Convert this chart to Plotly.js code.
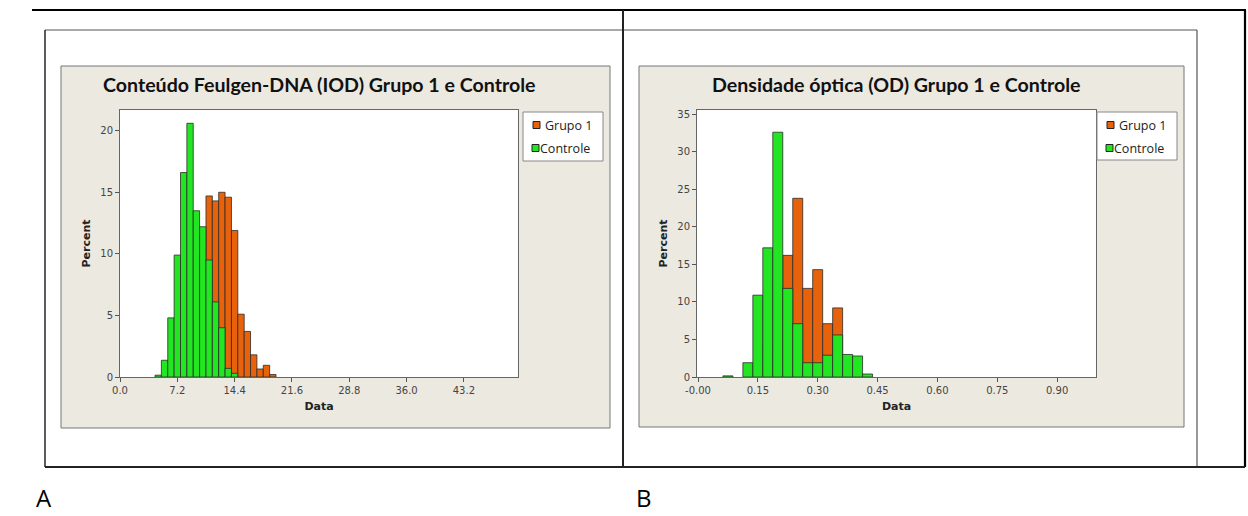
<!DOCTYPE html>
<html>
<head>
<meta charset="utf-8">
<script src="https://cdn.plot.ly/plotly-3.0.1.min.js"></script>
<style>html,body{margin:0;padding:0;background:#fff;}#chart{width:1248px;height:516px;}</style>
</head>
<body>
<div id="chart"></div>
<script>
// ---- Data ----
const seriesNames = ['Grupo 1', 'Controle'];
const panelLetters = ['A', 'B'];
const titleIOD = 'Conteúdo Feulgen-DNA (IOD) Grupo 1 e Controle';
const titleOD = 'Densidade óptica (OD) Grupo 1 e Controle';
const xTitle = 'Data';
const yTitle = 'Percent';

// Panel A: IOD histogram (bin centres, percent per group)
const iodBins = [4.8, 5.6, 6.4, 7.2, 8.0, 8.8, 9.6, 10.4, 11.2, 12.0, 12.8, 13.6, 14.4, 15.2, 16.0, 16.8, 17.6, 18.4, 19.2];
const iodGrupo1 = [null, null, null, null, 0.3, 1.2, 4.5, 10.0, 14.7, 14.3, 15.0, 14.6, 11.9, 5.1, 3.7, 1.8, 0.65, 0.95, 0.2];
const iodControle = [0.15, 1.36, 4.8, 9.9, 16.6, 20.6, 13.5, 12.2, 9.5, 6.1, 4.0, 0.7, 0.3, null, null, null, null, null, null];
const iodBinWidth = 0.8;
const iodTickVals = [0, 7.2, 14.4, 21.6, 28.8, 36.0, 43.2];
const iodTickText = ['0.0', '7.2', '14.4', '21.6', '28.8', '36.0', '43.2'];
const iodYTicks = [0, 5, 10, 15, 20];

// Panel B: OD histogram
const odBins = [0.075, 0.1, 0.125, 0.15, 0.175, 0.2, 0.225, 0.25, 0.275, 0.3, 0.325, 0.35, 0.375, 0.4, 0.425];
const odGrupo1 = [null, null, null, 1.0, 4.0, 12.0, 16.2, 23.8, 11.8, 14.3, 7.1, 9.2, 0.6, null, null];
const odControle = [0.15, null, 1.9, 10.9, 17.2, 32.6, 11.8, 7.1, 1.9, 1.9, 2.9, 5.6, 3.0, 2.8, 0.4];
const odBinWidth = 0.025;
const odTickVals = [0, 0.15, 0.30, 0.45, 0.60, 0.75, 0.90];
const odTickText = ['-0.00', '0.15', '0.30', '0.45', '0.60', '0.75', '0.90'];
const odYTicks = [0, 5, 10, 15, 20, 25, 30, 35];

// ---- Styling ----
const W = 1248, H = 516;
const px = x => x / W;
const py = y => 1 - y / H;
const orange = '#E8620C';
const green = '#22E622';
const barLine = {color: '#2b2b2b', width: 0.8};

function bars(x, y, w, name, color, xa, ya) {
  return {type: 'bar', x: x, y: y, width: w, name: name, xaxis: xa, yaxis: ya,
    marker: {color: color, line: barLine}, showlegend: false, hoverinfo: 'x+y+name'};
}

const data = [
  bars(iodBins, iodGrupo1, iodBinWidth, seriesNames[0], orange, 'x', 'y'),
  bars(iodBins, iodControle, iodBinWidth, seriesNames[1], green, 'x', 'y'),
  bars(odBins, odGrupo1, odBinWidth, seriesNames[0], orange, 'x2', 'y2'),
  bars(odBins, odControle, odBinWidth, seriesNames[1], green, 'x2', 'y2')
];

const tickFont = {family: 'DejaVu Sans', size: 10, color: '#444'};
const axTitleFont = {family: 'DejaVu Sans', size: 11, color: '#222'};
function xAxis(domain, range, tv, tt, anchor) {
  return {domain: domain, range: range, anchor: anchor, tickvals: tv, ticktext: tt,
    ticks: 'outside', ticklen: 4, tickcolor: '#555', showline: true, mirror: true,
    linecolor: '#666', linewidth: 1, showgrid: false, zeroline: false, tickfont: tickFont,
    title: {text: '<b>' + xTitle + '</b>', font: axTitleFont, standoff: 7}, fixedrange: true};
}
function yAxis(domain, range, tv, anchor) {
  return {domain: domain, range: range, anchor: anchor, tickvals: tv,
    ticks: 'outside', ticklen: 4, tickcolor: '#555', showline: true, mirror: true,
    linecolor: '#666', linewidth: 1, showgrid: false, zeroline: false, tickfont: tickFont,
    title: {text: '<b>' + yTitle + '</b>', font: axTitleFont, standoff: 7}, fixedrange: true};
}

function line(x0, y0, x1, y1, color, width) {
  return {type: 'line', xref: 'paper', yref: 'paper', x0: px(x0), y0: py(y0), x1: px(x1), y1: py(y1),
    line: {color: color, width: width}, layer: 'below'};
}
function rect(x0, y0, x1, y1, fill, lc, lw, layer) {
  return {type: 'rect', xref: 'paper', yref: 'paper', x0: px(x0), y0: py(y0), x1: px(x1), y1: py(y1),
    fillcolor: fill, line: {color: lc, width: lw}, layer: layer || 'below'};
}

const shapes = [
  // gray chart panels
  rect(61, 66, 610, 428, '#ECE9E1', '#777', 1),
  rect(639, 66, 1184, 427, '#ECE9E1', '#777', 1),
  // white plot areas
  rect(120, 110, 518, 377, '#ffffff', 'rgba(0,0,0,0)', 0),
  rect(697, 110, 1096, 377, '#ffffff', 'rgba(0,0,0,0)', 0),
  // image frames
  line(45, 30, 1197, 30, '#555', 1.2),
  line(45, 30, 45, 467, '#333', 1.6),
  line(1197, 30, 1197, 467, '#555', 1.2),
  // table borders
  line(32, 10, 1246, 10, '#000', 2.2),
  line(1245, 10, 1245, 467, '#000', 2.2),
  line(623, 10, 623, 467, '#222', 2),
  line(45, 467, 1245, 467, '#222', 2),
  // legends
  rect(523, 112, 603, 161, '#ffffff', '#888', 1, 'above'),
  rect(1097, 112, 1177, 160, '#ffffff', '#888', 1, 'above'),
  rect(533, 121.5, 540, 128.5, orange, '#222', 1, 'above'),
  rect(532, 144.5, 539, 151.5, green, '#222', 1, 'above'),
  rect(1107, 121.5, 1114, 128.5, orange, '#222', 1, 'above'),
  rect(1106, 144.5, 1113, 151.5, green, '#222', 1, 'above')
];

const legFont = {family: 'Open Sans', size: 12.5, color: '#222'};
const titleFont = {family: 'Lato', size: 19.6, color: '#111', weight: 'bold'};
function ann(text, x, y, font, xanchor, yanchor) {
  return {text: text, x: px(x), y: py(y), xref: 'paper', yref: 'paper', showarrow: false,
    font: font, xanchor: xanchor || 'center', yanchor: yanchor || 'middle'};
}
const letterFont = {family: 'Open Sans', size: 24, color: '#000'};
const annotations = [
  ann('<b>' + titleIOD + '</b>', 319, 84, titleFont),
  ann('<b>' + titleOD + '</b>', 896, 84, titleFont),
  ann(seriesNames[0], 543, 125, legFont, 'left'),
  ann(seriesNames[1], 538, 148, legFont, 'left'),
  ann(seriesNames[0], 1117, 125, legFont, 'left'),
  ann(seriesNames[1], 1112, 148, legFont, 'left'),
  ann(panelLetters[0], 34, 516, letterFont, 'left', 'bottom'),
  ann(panelLetters[1], 634, 516, letterFont, 'left', 'bottom')
];

const layout = {
  width: W, height: H, margin: {l: 0, r: 0, t: 0, b: 0},
  paper_bgcolor: '#ffffff', plot_bgcolor: 'rgba(0,0,0,0)',
  barmode: 'overlay', bargap: 0, showlegend: false,
  xaxis: xAxis([px(120), px(518)], [0, 50], iodTickVals, iodTickText, 'y'),
  yaxis: yAxis([py(377), py(110)], [0, 21.68], iodYTicks, 'x'),
  xaxis2: xAxis([px(697), px(1096)], [-0.0025, 0.9975], odTickVals, odTickText, 'y2'),
  yaxis2: yAxis([py(377), py(110)], [0, 35.56], odYTicks, 'x2'),
  shapes: shapes, annotations: annotations
};

Plotly.newPlot('chart', data, layout, {displayModeBar: false, staticPlot: true});
</script>
</body>
</html>
